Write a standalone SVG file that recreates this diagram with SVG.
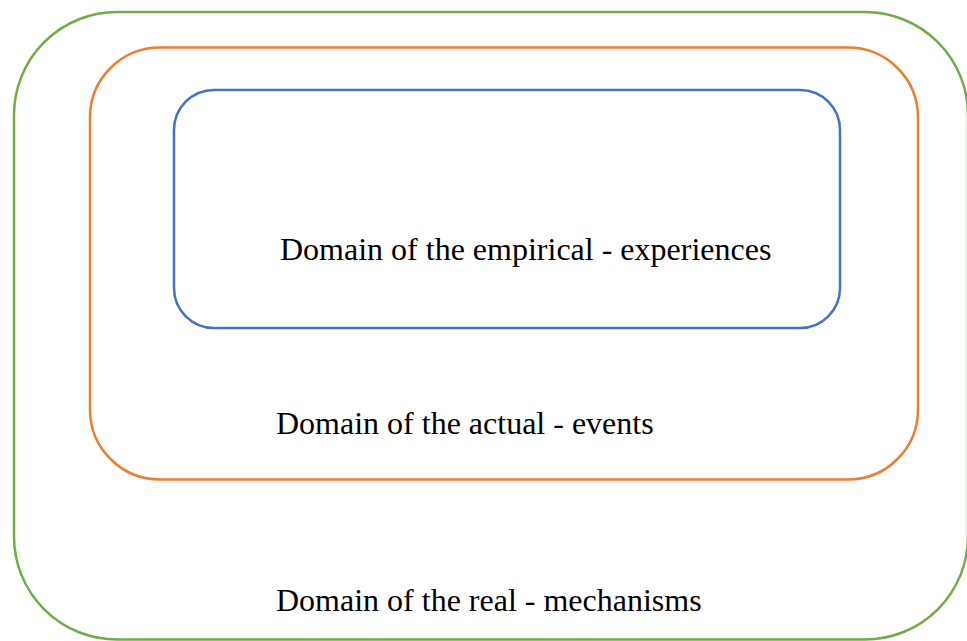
<svg xmlns="http://www.w3.org/2000/svg" width="967" height="641" viewBox="0 0 967 641">
<style>
.box{fill:none;stroke-width:2.5}
.lbl{font-family:"Liberation Serif","Times New Roman",serif;font-size:32px;fill:#000}
</style>
<rect width="967" height="641" fill="#fff"/>
<g id="real">
<rect class="box" x="14" y="12" width="954" height="627.5" rx="103" ry="103" stroke="#70AD47"/>
<text class="lbl" x="276" y="611">Domain of the real - mechanisms</text>
</g>
<g id="actual">
<rect class="box" x="90" y="47.5" width="828" height="432" rx="70" ry="70" stroke="#ED7D31"/>
<text class="lbl" x="276" y="434">Domain of the actual - events</text>
</g>
<g id="empirical">
<rect class="box" x="174" y="90" width="666" height="238" rx="40" ry="40" stroke="#4472C4"/>
<text class="lbl" x="280" y="260">Domain of the empirical - experiences</text>
</g>
<g id="connectors"/>
</svg>
